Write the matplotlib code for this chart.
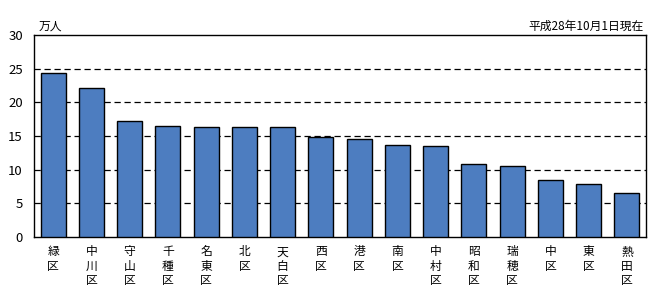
import matplotlib
matplotlib.use("Agg")
import matplotlib.pyplot as plt
import numpy as np

plt.rcParams['font.family'] = ['Noto Sans CJK JP', 'DejaVu Sans']

districts = ["緑区", "中川区", "守山区", "千種区", "名東区", "北区", "天白区", "西区",
             "港区", "南区", "中村区", "昭和区", "瑞穂区", "中区", "東区", "熱田区"]
population = [24.4, 22.1, 17.3, 16.5, 16.4, 16.3, 16.3, 14.9,
              14.6, 13.6, 13.5, 10.8, 10.6, 8.4, 7.8, 6.6]
yticks = [0, 5, 10, 15, 20, 25, 30]

fig = plt.figure(figsize=(6.49, 2.86), dpi=100)
ax = fig.add_axes([0.0524, 0.1713, 0.9430, 0.7063])

x = np.arange(len(districts))
ax.bar(x, population, width=0.65, color='#4D7DC0', edgecolor='black', linewidth=1.0, zorder=3)

ax.set_xlim(-0.5, len(districts) - 0.5)
ax.set_ylim(0, 30)
ax.set_yticks(yticks)
ax.set_yticklabels([str(v) for v in yticks], fontsize=9.5)
for v in yticks[1:-1]:
    ax.axhline(v, color='black', linestyle=(0, (5, 3)), linewidth=0.9, zorder=1)

ax.set_xticks(x)
ax.set_xticklabels(["\n".join(list(d)) for d in districts], fontsize=8.5, linespacing=1.12, va='top')
ax.tick_params(axis='both', length=0)
ax.tick_params(axis='x', pad=6)
ax.tick_params(axis='y', pad=8)

for s in ax.spines.values():
    s.set_linewidth(1.0)
    s.set_color('black')

fig.text(0.060, 0.885, "万人", fontsize=8.5, ha='left', va='bottom')
fig.text(0.991, 0.885, "平成28年10月1日現在", fontsize=8.5, ha='right', va='bottom')

fig.savefig("out.png", dpi=100)
